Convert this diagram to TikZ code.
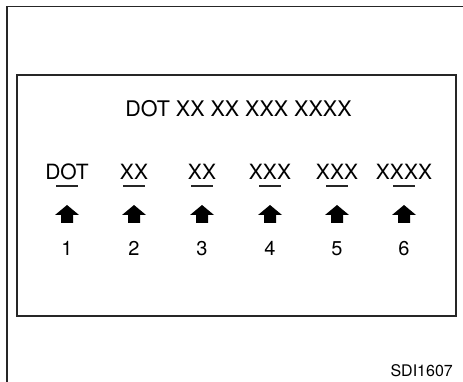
\documentclass[tikz,border=0pt]{standalone}
\usepackage{fontspec}
\setmainfont{TeX Gyre Heros}
\begin{document}
\begin{tikzpicture}[x=1pt,y=-1pt,
  frame/.style={line width=1.5pt, draw=black!85},
  lbl/.style={anchor=base, font=\fontsize{21}{21}\selectfont, inner sep=0pt},
  num/.style={anchor=base, font=\fontsize{20}{20}\selectfont, inner sep=0pt},
  uline/.style={line width=1.3pt, draw=black!85},
  uparrow/.style={fill=black}]
\useasboundingbox (0,0) rectangle (463,382);
\draw[frame] (7,382) -- (7,6.5) -- (463,6.5);
\draw[frame] (17,75) rectangle (456,316);
\node[lbl, font=\fontsize{21.5}{21.5}\selectfont] (title) at (238.5,117) {DOT XX XX XXX XXXX};
\foreach \i/\x/\t in {1/67/DOT,2/134/XX,3/202/XX,4/270/XXX,5/337/XXX,6/404/XXXX} {
  \node[lbl] (l\i) at (\x,180) {\t};
  \coordinate (u\i) at (\x,186);
  \draw[uline] ([xshift=-11pt]u\i) -- ([xshift=11pt]u\i);
  \coordinate (a\i) at (\x,205);
  \fill[uparrow] (a\i) -- ++(12,10) -- ++(-6,0) -- ++(0,8) -- ++(-12,0) -- ++(0,-8) -- ++(-6,0) -- cycle;
  \node[num] (n\i) at (\x,255) {\i};
}
\node[anchor=base east, font=\fontsize{16}{16}\selectfont, inner sep=0pt] (code) at (453,376) {SDI1607};
\end{tikzpicture}
\end{document}
